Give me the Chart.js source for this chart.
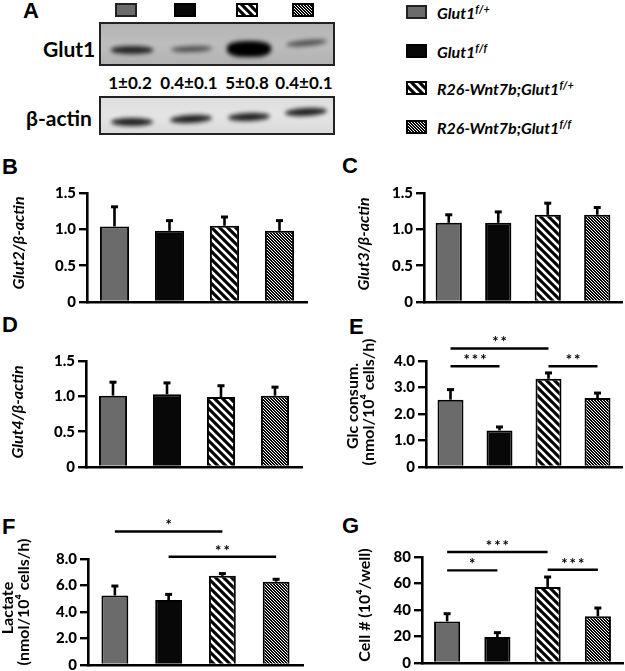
<!DOCTYPE html>
<html>
<head>
<meta charset="utf-8">
<script src="https://cdn.jsdelivr.net/npm/chart.js@4.4.1/dist/chart.umd.min.js"></script>
<style>
body { margin: 0; background: #fff; width: 625px; height: 671px; position: relative; overflow: hidden; font-family: Lato, sans-serif; color: #000; }
.plab { position: absolute; font: bold 22px "Liberation Sans", Arial, sans-serif; line-height: 1; transform: translateY(-50%); }
.txt { position: absolute; font-weight: bold; line-height: 1; transform: translateY(-50%); white-space: nowrap; }
.blot { position: absolute; border: 2px solid #222; box-sizing: border-box; overflow: hidden; }
.band { position: absolute; background: #000; border-radius: 50%; filter: blur(2px); }
.leg { position: absolute; font: italic bold 16px Lato, sans-serif; line-height: 1; transform: translateY(-50%); white-space: nowrap; }
.leg sup { font-size: 11px; vertical-align: 6px; }
canvas.sw { position: absolute; }
canvas.ch { position: absolute; }
</style>
</head>
<body>

<div class="plab" style="left:23px;top:11px">A</div>
<div class="plab" style="left:2px;top:167px">B</div>
<div class="plab" style="left:342px;top:166px">C</div>
<div class="plab" style="left:2px;top:325px">D</div>
<div class="plab" style="left:349px;top:327px">E</div>
<div class="plab" style="left:2px;top:527px">F</div>
<div class="plab" style="left:342px;top:526px">G</div>

<div class="blot" id="blotGlut1" style="left:99px;top:22px;width:236px;height:44px;background:linear-gradient(#b4b4b4,#bdbdbd 50%,#b2b2b2)"></div>
<div class="blot" id="blotActin" style="left:99px;top:96px;width:236px;height:39px;background:linear-gradient(#dedede,#e4e4e4 50%,#dadada)"></div>
<div class="txt" style="left:43px;top:48px;font-size:21px">Glut1</div>
<div class="txt" style="left:26px;top:117px;font-size:21px">β-actin</div>
<div id="quant"></div>

<div id="legend"></div>

<canvas class="ch" id="chB"></canvas>
<canvas class="ch" id="chC"></canvas>
<canvas class="ch" id="chD"></canvas>
<canvas class="ch" id="chE"></canvas>
<canvas class="ch" id="chF"></canvas>
<canvas class="ch" id="chG"></canvas>

<script>
// Gruppen
const groups = ['Glut1 f/+', 'Glut1 f/f', 'R26-Wnt7b;Glut1 f/+', 'R26-Wnt7b;Glut1 f/f'];
const groupBase = ['Glut1', 'Glut1', 'R26-Wnt7b;Glut1', 'R26-Wnt7b;Glut1'];
const groupSup = ['f/+', 'f/f', 'f/+', 'f/f'];

// Western blot quantification (A)
const glut1Ratio = [1, 0.4, 5, 0.4];
const glut1Sd = [0.2, 0.1, 0.8, 0.1];

// B-D: mRNA
const glut2Mean = [1.04, 0.98, 1.05, 0.98];
const glut2Err = [0.27, 0.14, 0.12, 0.14];
const glut3Mean = [1.09, 1.09, 1.20, 1.20];
const glut3Err = [0.11, 0.15, 0.16, 0.10];
const glut4Mean = [1.01, 1.03, 0.99, 1.01];
const glut4Err = [0.19, 0.16, 0.16, 0.12];

// E-G
const glcMean = [2.54, 1.38, 3.33, 2.60];
const glcErr = [0.38, 0.13, 0.22, 0.19];
const lacMean = [5.25, 4.90, 6.73, 6.29];
const lacErr = [0.71, 0.43, 0.17, 0.18];
const cellMean = [31.4, 19.6, 57.4, 35.2];
const cellErr = [5.8, 3.3, 7.5, 6.3];

// Signifikanz: [von, bis, Niveau, Text]
const glcSig = [[0, 2, 4.47, '**'], [0, 1, 3.80, '***'], [2, 3, 3.80, '**']];
const lacSig = [[0, 2, 10.08, '*'], [1, 3, 8.17, '**']];
const cellSig = [[0, 2, 83.8, '***'], [0, 1, 69.9, '*'], [2, 3, 70.4, '***']];

function stripeTile(size, lineW) {
    const c = document.createElement('canvas');
    c.width = size; c.height = size;
    const g = c.getContext('2d');
    g.fillStyle = '#000';
    g.fillRect(0, 0, size, size);
    g.strokeStyle = '#fff';
    g.lineWidth = lineW;
    for (const k of [-size, 0, size]) {
        g.beginPath();
        g.moveTo(-1, k - 1);
        g.lineTo(size + 1, k + size + 1);
        g.stroke();
    }
    return c;
}

const tileWide = stripeTile(8, 2.6);
const tileFine = stripeTile(3, 1.0);

function fills(ctx) {
    return ['#6b6b6b', '#080808', ctx.createPattern(tileWide, 'repeat'), ctx.createPattern(tileFine, 'repeat')];
}

function swatch(left, top, w, h, i) {
    const c = document.createElement('canvas');
    c.className = 'sw';
    c.width = w; c.height = h;
    c.style.left = left + 'px';
    c.style.top = top + 'px';
    const g = c.getContext('2d');
    g.fillStyle = fills(g)[i];
    g.fillRect(0, 0, w, h);
    g.strokeStyle = i === 0 ? '#222' : '#000';
    g.lineWidth = 2;
    g.strokeRect(1, 1, w - 2, h - 2);
    document.body.appendChild(c);
}

// Legende oben (A) und rechts
const laneX = [126, 185, 247, 303];
laneX.forEach((x, i) => swatch(x - 11, 3, 22, 14, i));
const legRows = [12, 51, 88, 127];
const legend = document.getElementById('legend');
legRows.forEach((y, i) => {
    swatch(406, y - 7, 21, 14, i);
    const d = document.createElement('div');
    d.className = 'leg';
    d.style.left = '437px';
    d.style.top = y + 'px';
    d.innerHTML = groupBase[i] + '<sup>' + groupSup[i] + '</sup>';
    legend.appendChild(d);
});

// Blot
const quant = document.getElementById('quant');
const blotLane = [130, 189, 247, 304];
const glut1Y = [48, 47, 47, 41];
const glut1Tilt = [0, -2, 0, -5];
const actinY = [120, 117, 115, 110];
const actinTilt = [0, -3, -2, -3];
glut1Ratio.forEach((r, i) => {
    const b = document.createElement('div');
    b.className = 'band';
    const w = 40 + Math.min(r, 2) * 2;
    const h = 5 + 2.2 * r;
    b.style.width = w + 'px';
    b.style.height = h + 'px';
    b.style.left = (blotLane[i] - 99 - w / 2) + 'px';
    b.style.top = (glut1Y[i] - 22 - h / 2) + 'px';
    b.style.opacity = Math.min(1, 0.4 + 0.4 * r);
    b.style.borderRadius = r > 2 ? '40%' : '50%';
    b.style.transform = 'rotate(' + glut1Tilt[i] + 'deg)';
    document.getElementById('blotGlut1').appendChild(b);

    const a = document.createElement('div');
    a.className = 'band';
    a.style.width = '42px';
    a.style.height = '8px';
    a.style.left = (blotLane[i] - 99 - 21) + 'px';
    a.style.top = (actinY[i] - 96 - 4) + 'px';
    a.style.opacity = 0.85;
    a.style.transform = 'rotate(' + actinTilt[i] + 'deg)';
    document.getElementById('blotActin').appendChild(a);

    const t = document.createElement('div');
    t.className = 'txt';
    t.style.fontSize = '17px';
    t.style.left = blotLane[i] + 'px';
    t.style.top = '82px';
    t.style.transform = 'translate(-50%,-50%)';
    t.textContent = r + '±' + glut1Sd[i];
    quant.appendChild(t);
});

// Fehlerbalken
const errorBars = {
    id: 'errorBars',
    afterDatasetsDraw(chart, args, opts) {
        const err = opts.err;
        if (!err) return;
        const ctx = chart.ctx;
        const y = chart.scales.y;
        const meta = chart.getDatasetMeta(0);
        ctx.save();
        ctx.strokeStyle = '#000';
        meta.data.forEach((bar, i) => {
            const v = chart.data.datasets[0].data[i];
            const yt = y.getPixelForValue(v + err[i]);
            ctx.lineWidth = 2.6;
            ctx.beginPath();
            ctx.moveTo(bar.x, bar.y);
            ctx.lineTo(bar.x, yt);
            ctx.stroke();
            ctx.lineWidth = 3;
            ctx.beginPath();
            ctx.moveTo(bar.x - 3.5, yt);
            ctx.lineTo(bar.x + 3.5, yt);
            ctx.stroke();
        });
        ctx.restore();
    }
};

// Signifikanzlinien
const sigLines = {
    id: 'sigLines',
    afterDraw(chart, args, opts) {
        const sig = opts.items;
        if (!sig) return;
        const ctx = chart.ctx;
        const x = chart.scales.x, y = chart.scales.y;
        ctx.save();
        sig.forEach(s => {
            const x0 = x.getPixelForValue(s[0]);
            const x1 = x.getPixelForValue(s[1]);
            const yy = y.getPixelForValue(s[2]);
            ctx.strokeStyle = '#000';
            ctx.lineWidth = 2.4;
            ctx.beginPath();
            ctx.moveTo(x0, yy);
            ctx.lineTo(x1, yy);
            ctx.stroke();
            ctx.fillStyle = '#000';
            ctx.font = 'bold 15px Lato';
            ctx.letterSpacing = '2px';
            ctx.textAlign = 'center';
            ctx.textBaseline = 'middle';
            ctx.fillText(s[3], (x0 + x1) / 2 + 1, yy - 6);
        });
        ctx.restore();
    }
};

// Achsentitel (gedreht, frei positioniert)
const axisTitles = {
    id: 'axisTitles',
    afterDraw(chart, args, opts) {
        if (!opts.lines) return;
        const ctx = chart.ctx;
        ctx.save();
        ctx.fillStyle = '#000';
        ctx.font = opts.font;
        ctx.textAlign = 'center';
        ctx.textBaseline = 'middle';
        opts.lines.forEach((t, i) => {
            ctx.save();
            ctx.translate(opts.x[i], opts.y[i]);
            ctx.rotate(-Math.PI / 2);
            ctx.fillText(t, 0, 0);
            ctx.restore();
        });
        ctx.restore();
    }
};

let charts = {};

function criarPainel(id, p) {
    const cv = document.getElementById(id);
    cv.width = p.w; cv.height = p.h;
    cv.style.left = p.left + 'px';
    cv.style.top = p.top + 'px';
    const ctx = cv.getContext('2d');

    charts[id] = new Chart(ctx, {
        type: 'bar',
        data: {
            labels: groups,
            datasets: [{
                data: p.mean,
                backgroundColor: fills(ctx),
                borderColor: '#000',
                borderWidth: 2,
                borderSkipped: 'bottom',
                categoryPercentage: 1,
                barPercentage: p.barPct
            }]
        },
        options: {
            responsive: false,
            animation: false,
            devicePixelRatio: 1,
            layout: {
                padding: { top: p.yTop - p.top, right: p.left + p.w - p.axisEnd, left: 0, bottom: 0 }
            },
            plugins: {
                legend: { display: false },
                tooltip: { enabled: false },
                errorBars: { err: p.err },
                sigLines: { items: p.sig },
                axisTitles: {
                    lines: p.title,
                    font: p.titleFont,
                    x: p.titleX.map(v => v - p.left),
                    y: p.titleY.map(v => v - p.top)
                }
            },
            scales: {
                x: {
                    ticks: { display: false },
                    grid: { display: false },
                    border: { color: '#000', width: 2.6 },
                    afterFit: s => { s.height = p.top + p.h - p.yBot; }
                },
                y: {
                    min: 0,
                    max: p.max,
                    ticks: {
                        stepSize: p.step,
                        color: '#000',
                        padding: 3,
                        font: { family: 'Lato', size: 15, weight: '900' },
                        callback: v => v === 0 ? '0' : v.toFixed(p.dec)
                    },
                    grid: { drawOnChartArea: false, drawTicks: true, tickLength: 8, color: '#000', lineWidth: 2.4 },
                    border: { color: '#000', width: 2.6 },
                    title: { display: false },
                    afterFit: s => { s.width = p.axisX - p.left; }
                }
            }
        },
        plugins: [errorBars, sigLines, axisTitles]
    });
}

const fontItal = 'italic bold 16px Lato';
const fontPlain = 'bold 16px Lato';

criarPainel('chB', { left: 0, top: 180, w: 315, h: 134, axisX: 87, axisEnd: 307, yTop: 193, yBot: 302,
    max: 1.5, step: 0.5, dec: 1, mean: glut2Mean, err: glut2Err, barPct: 0.53,
    title: ['Glut2/β-actin'], titleFont: fontItal, titleX: [19], titleY: [243] });
criarPainel('chC', { left: 340, top: 180, w: 285, h: 134, axisX: 424, axisEnd: 622, yTop: 193, yBot: 302,
    max: 1.5, step: 0.5, dec: 1, mean: glut3Mean, err: glut3Err, barPct: 0.53,
    title: ['Glut3/β-actin'], titleFont: fontItal, titleX: [364], titleY: [244] });
criarPainel('chD', { left: 0, top: 348, w: 315, h: 131, axisX: 86, axisEnd: 302, yTop: 361, yBot: 467,
    max: 1.5, step: 0.5, dec: 1, mean: glut4Mean, err: glut4Err, barPct: 0.52,
    title: ['Glut4/β-actin'], titleFont: fontItal, titleX: [18], titleY: [412] });
criarPainel('chE', { left: 340, top: 330, w: 285, h: 149, axisX: 426, axisEnd: 622, yTop: 361, yBot: 467,
    max: 4, step: 1, dec: 1, mean: glcMean, err: glcErr, barPct: 0.53, sig: glcSig,
    title: ['Glc consum.', '(nmol/10⁴ cells/h)'], titleFont: fontPlain, titleX: [353, 369], titleY: [406, 402] });
criarPainel('chF', { left: 0, top: 510, w: 315, h: 167, axisX: 88, axisEnd: 303, yTop: 559, yBot: 665,
    max: 8, step: 2, dec: 1, mean: lacMean, err: lacErr, barPct: 0.5, sig: lacSig,
    title: ['Lactate', '(nmol/10⁴ cells/h)'], titleFont: fontPlain, titleX: [8, 24], titleY: [608, 602] });
criarPainel('chG', { left: 340, top: 510, w: 285, h: 165, axisX: 422, axisEnd: 623, yTop: 557, yBot: 663,
    max: 80, step: 20, dec: 0, mean: cellMean, err: cellErr, barPct: 0.52, sig: cellSig,
    title: ['Cell # (10⁴/well)'], titleFont: fontPlain, titleX: [365], titleY: [605] });
</script>
</body>
</html>
